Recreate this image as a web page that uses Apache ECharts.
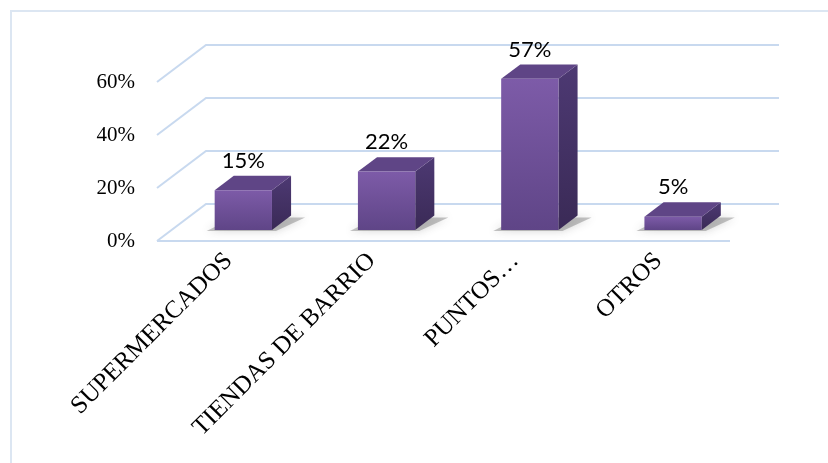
<!DOCTYPE html>
<html>
<head>
<meta charset="utf-8">
<script src="https://cdn.jsdelivr.net/npm/echarts@6/dist/echarts.min.js"></script>
<style>
  html, body { margin: 0; padding: 0; background: #ffffff; }
  #chart { width: 828px; height: 463px; }
</style>
</head>
<body>
<div id="chart"></div>
<script>
// Survey shares per purchase channel (percent)
const categories = ['SUPERMERCADOS', 'TIENDAS DE BARRIO', 'PUNTOS…', 'OTROS'];
const shares = [15, 22, 57, 5];
const gridTicks = [0, 20, 40, 60];

// Oblique projection of the 3D box: full depth of the floor and where bars sit in it
const DEPTH_DX = 49, DEPTH_DY = -37;
const BAR_FRONT = 0.30, BAR_BACK = 0.69;
const BAR_RATIO = 0.40;
const gridColor = '#c8d9ef';

const chart = echarts.init(document.getElementById('chart'), null, { renderer: 'canvas' });

function wallItem(params, api) {
  const cs = params.coordSys;
  const v = api.value(0);
  const y = api.coord([0, v])[1];
  const xl = cs.x, xr = cs.x + cs.width;
  const children = [{
    type: 'polyline',
    shape: { points: [[xl, y], [xl + DEPTH_DX, y + DEPTH_DY], [xr + DEPTH_DX, y + DEPTH_DY]] },
    style: { stroke: gridColor, lineWidth: 2, fill: null }
  }];
  if (v === 0) {
    children.push({
      type: 'line',
      shape: { x1: xl, y1: y, x2: xr, y2: y },
      style: { stroke: gridColor, lineWidth: 2 }
    });
  }
  return { type: 'group', children: children };
}

function barItem(params, api) {
  const idx = api.value(0);
  const val = api.value(1);
  const base = api.coord([idx, 0]);
  const top = api.coord([idx, val]);
  const band = api.size([1, 0])[0];
  const w = band * BAR_RATIO;
  const fx = BAR_FRONT * DEPTH_DX, fy = BAR_FRONT * DEPTH_DY;
  const dx = (BAR_BACK - BAR_FRONT) * DEPTH_DX, dy = (BAR_BACK - BAR_FRONT) * DEPTH_DY;
  const x0 = base[0] - w / 2 + fx;
  const x1 = x0 + w;
  const yb = base[1] + fy;
  const yt = top[1] + fy;

  const shadow = {
    type: 'polygon',
    shape: { points: [[x0 - 8, yb + 1], [x1 + 4, yb + 1], [x1 + dx + 14, yb + dy + 2], [x0 + dx, yb + dy + 2]] },
    style: { fill: 'rgba(90,90,90,0.35)', shadowBlur: 8, shadowColor: 'rgba(60,60,60,0.6)' },
    z2: 0
  };
  const side = {
    type: 'polygon',
    shape: { points: [[x1, yt], [x1 + dx, yt + dy], [x1 + dx, yb + dy], [x1, yb]] },
    style: {
      fill: new echarts.graphic.LinearGradient(0, 0, 0, 1, [
        { offset: 0, color: '#4d3973' },
        { offset: 1, color: '#3a2a56' }
      ])
    },
    z2: 1
  };
  const topFace = {
    type: 'polygon',
    shape: { points: [[x0, yt], [x1, yt], [x1 + dx, yt + dy], [x0 + dx, yt + dy]] },
    style: { fill: '#5f4586' },
    z2: 1
  };
  const front = {
    type: 'rect',
    shape: { x: x0, y: yt, width: w, height: yb - yt },
    style: {
      fill: new echarts.graphic.LinearGradient(0, 0, 0, 1, [
        { offset: 0, color: '#7d5ba8' },
        { offset: 1, color: '#5f4587' }
      ])
    },
    z2: 2
  };
  const label = {
    type: 'text',
    style: {
      text: val + '%',
      x: (x0 + x1) / 2,
      y: yt + dy - 4,
      align: 'center',
      verticalAlign: 'bottom',
      fontFamily: 'Lato',
      fontSize: 22,
      fill: '#000000'
    },
    z2: 3
  };
  return { type: 'group', children: [shadow, side, topFace, front, label] };
}

chart.setOption({
  backgroundColor: '#ffffff',
  animation: false,
  grid: { left: 157, right: 98, top: 82, bottom: 222 },
  xAxis: {
    type: 'category',
    data: categories,
    axisLine: { show: false },
    axisTick: { show: false },
    axisLabel: {
      rotate: 45,
      margin: 16,
      interval: 0,
      fontFamily: 'Liberation Serif',
      fontSize: 25,
      color: '#000000'
    }
  },
  yAxis: {
    type: 'value',
    min: 0,
    max: 60,
    interval: 20,
    axisLine: { show: false },
    axisTick: { show: false },
    splitLine: { show: false },
    axisLabel: {
      margin: 22,
      formatter: '{value}%',
      fontFamily: 'Liberation Serif',
      fontSize: 21,
      color: '#000000'
    }
  },
  series: [
    {
      type: 'custom',
      renderItem: wallItem,
      data: gridTicks.map(function (t) { return [t]; }),
      encode: { y: 0 },
      silent: true,
      z: 1
    },
    {
      type: 'custom',
      renderItem: barItem,
      data: shares.map(function (v, i) { return [i, v]; }),
      encode: { x: 0, y: 1 },
      z: 2
    }
  ],
  graphic: [{
    type: 'rect',
    shape: { x: 11, y: 11, width: 900, height: 600 },
    style: { fill: null, stroke: '#dce6f2', lineWidth: 2 },
    silent: true,
    z: 0
  }]
});
</script>
</body>
</html>
